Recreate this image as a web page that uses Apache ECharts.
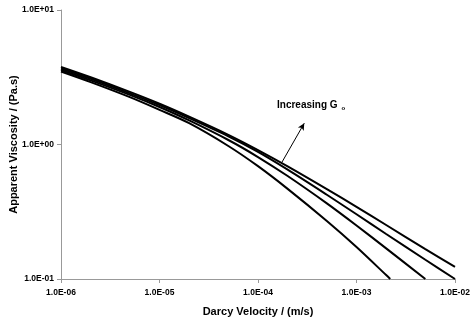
<!DOCTYPE html>
<html>
<head>
<meta charset="utf-8">
<style>
  html, body { margin: 0; padding: 0; background: #fff; }
  #chart { width: 475px; height: 325px; }
</style>
</head>
<body>
<div id="chart"></div>
<script src="https://cdn.jsdelivr.net/npm/echarts@6/dist/echarts.min.js"></script>
<script>
  // Darcy velocity (m/s)
  var velocity = [1e-6, 2e-6, 5e-6, 1e-5, 2e-5, 5e-5, 1e-4, 2e-4, 5e-4, 1e-3, 2e-3, 5e-3, 1e-2];
  var velocityA = [1e-6, 2e-6, 5e-6, 1e-5, 2e-5, 5e-5, 1e-4, 2e-4, 5e-4, 1e-3, 2e-3, 2.2e-3];

  // apparent viscosity (Pa.s), lowest G_o first
  var viscA = [3.49, 2.91, 2.25, 1.81, 1.44, 0.975, 0.690, 0.468, 0.270, 0.173, 0.107, 0.100];
  var viscB = [3.58, 3.00, 2.34, 1.90, 1.51, 1.08, 0.807, 0.583, 0.365, 0.250, 0.169, 0.100];
  var viscC = [3.67, 3.08, 2.40, 1.96, 1.57, 1.15, 0.881, 0.650, 0.423, 0.303, 0.216, 0.139, 0.100];
  var viscD = [3.77, 3.16, 2.46, 2.01, 1.61, 1.18, 0.909, 0.688, 0.466, 0.344, 0.252, 0.167, 0.123];

  var xTicks = [1e-6, 1e-5, 1e-4, 1e-3, 1e-2];
  var yTicks = [0.1, 1, 10];

  function sci(v) {
    var s = v.toExponential(1).split('e');
    var e = parseInt(s[1], 10);
    var sign = e < 0 ? '-' : '+';
    var a = Math.abs(e);
    return s[0] + 'E' + sign + (a < 10 ? '0' : '') + a;
  }

  function pairs(xs, ys) {
    return ys.map(function (y, i) { return [xs[i], y]; });
  }

  function curve(xs, ys) {
    return {
      type: 'line',
      data: pairs(xs, ys),
      smooth: 0.3,
      showSymbol: false,
      lineStyle: { color: '#000', width: 2 },
      z: 3
    };
  }

  var font = 'Liberation Sans, Arial, sans-serif';
  var chart = echarts.init(document.getElementById('chart'));

  var series = [
    curve(velocityA, viscA),
    curve(velocity.slice(0, viscB.length), viscB),
    curve(velocity, viscC),
    curve(velocity, viscD)
  ];

  // arrow for "Increasing G_o"
  series.push({
    type: 'line',
    data: [],
    markLine: {
      silent: true,
      symbol: ['none', 'arrow'],
      symbolSize: [5, 7],
      label: { show: false },
      lineStyle: { color: '#000', width: 1, type: 'solid' },
      data: [[{ coord: [1.74e-4, 0.733] }, { coord: [2.95e-4, 1.44] }]]
    }
  });

  var option = {
    animation: false,
    backgroundColor: '#fff',
    grid: { left: 61, right: 20, top: 10, bottom: 46, outerBoundsMode: 'none' },
    xAxis: {
      type: 'log',
      logBase: 10,
      min: xTicks[0],
      max: xTicks[xTicks.length - 1],
      name: 'Darcy Velocity / (m/s)',
      nameLocation: 'middle',
      nameGap: 27,
      nameMoveOverlap: false,
      nameTextStyle: { fontFamily: font, fontWeight: 'bold', fontSize: 11, color: '#000' },
      axisLine: { lineStyle: { color: '#999', width: 1 } },
      axisTick: { show: true, length: 4, lineStyle: { color: '#999' } },
      minorTick: { show: false },
      splitLine: { show: false },
      axisLabel: {
        fontFamily: font, fontWeight: 'bold', fontSize: 8.5, color: '#000', margin: 9,
        formatter: function (v) { return sci(v); }
      }
    },
    yAxis: {
      type: 'log',
      logBase: 10,
      min: yTicks[0],
      max: yTicks[yTicks.length - 1],
      name: 'Apparent Viscosity / (Pa.s)',
      nameLocation: 'middle',
      nameGap: 42,
      nameMoveOverlap: false,
      nameTextStyle: { fontFamily: font, fontWeight: 'bold', fontSize: 11, color: '#000' },
      axisLine: { show: true, lineStyle: { color: '#999', width: 1 } },
      axisTick: { show: true, length: 4, lineStyle: { color: '#999' } },
      splitLine: { show: false },
      axisLabel: {
        fontFamily: font, fontWeight: 'bold', fontSize: 8.5, color: '#000', margin: 7,
        formatter: function (v) { return sci(v); }
      }
    },
    series: series,
    graphic: [{
      type: 'text',
      left: 277,
      top: 100,
      style: {
        text: '{a|Increasing G}{b|o}',
        rich: {
          a: { fontFamily: font, fontWeight: 'bold', fontSize: 10, fill: '#000' },
          b: { fontFamily: font, fontWeight: 'bold', fontSize: 6, fill: '#000', padding: [6, 0, 0, 4] }
        }
      }
    }]
  };

  chart.setOption(option);
</script>
</body>
</html>
